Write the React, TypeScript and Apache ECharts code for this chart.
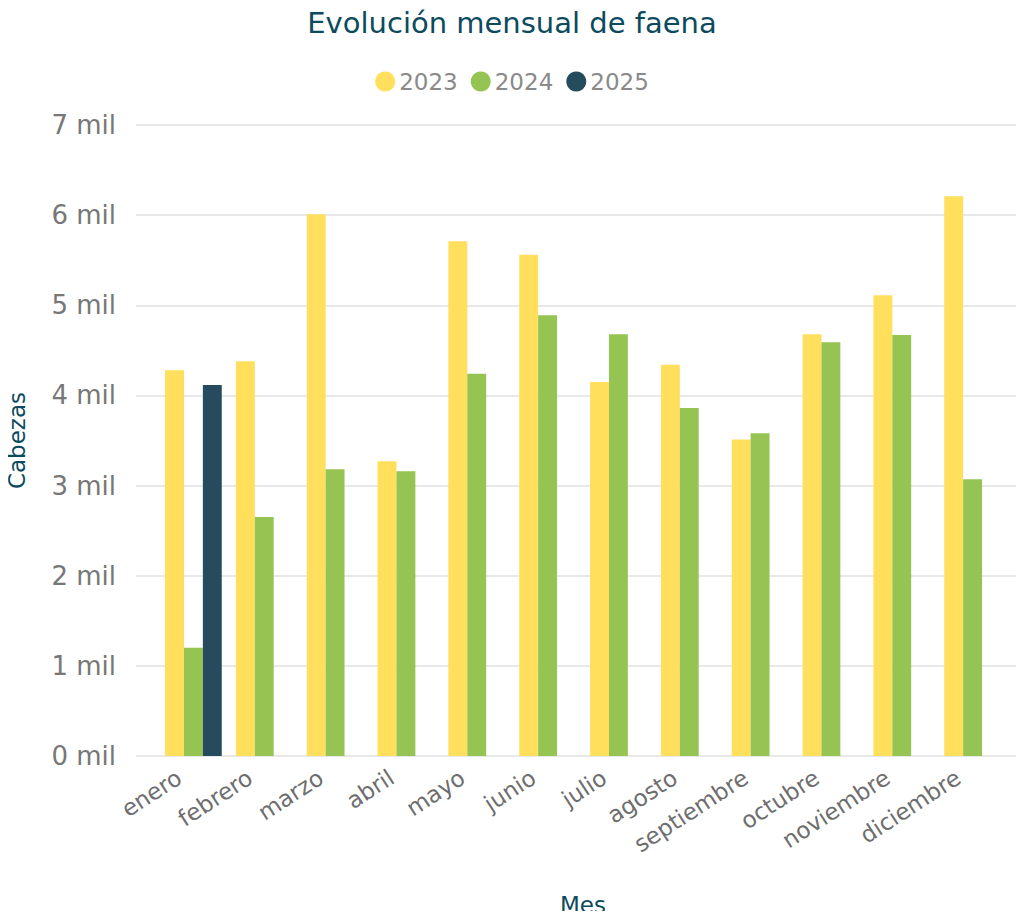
import React, { useEffect, useRef } from "react";
import * as echarts from "echarts";

const months = ["enero", "febrero", "marzo", "abril", "mayo", "junio", "julio", "agosto", "septiembre", "octubre", "noviembre", "diciembre"];
const s2023 = [4280, 4380, 6010, 3270, 5710, 5560, 4150, 4340, 3510, 4680, 5110, 6210];
const s2024 = [1200, 2650, 3180, 3160, 4240, 4890, 4680, 3860, 3580, 4590, 4670, 3070];
const s2025: (number | null)[] = [4115, null, null, null, null, null, null, null, null, null, null, null];
const yTicks = [0, 1000, 2000, 3000, 4000, 5000, 6000, 7000];

const FONT = "DejaVu Sans";

export default function App() {
  const ref = useRef<HTMLDivElement>(null);
  useEffect(() => {
    if (!ref.current) return;
    const chart = echarts.init(ref.current, undefined, { renderer: "svg" });
    const yMax = yTicks[yTicks.length - 1];
    chart.setOption({
      animation: false,
      textStyle: { fontFamily: FONT },
      title: {
        text: "Evolución mensual de faena",
        left: "center",
        top: 3,
        textStyle: { fontFamily: FONT, fontSize: 29, fontWeight: "normal", color: "#0c4b5e" },
      },
      legend: {
        top: 65,
        left: "center",
        icon: "circle",
        itemWidth: 20,
        itemHeight: 20,
        itemGap: 13,
        textStyle: { fontFamily: FONT, fontSize: 23, color: "#8a8a8a", padding: [0, 0, 0, -1] },
        data: ["2023", "2024", "2025"],
      },
      grid: [
        { left: 136, right: 2, top: 125, bottom: 163, outerBoundsMode: "none", containLabel: false },
        { left: 158, right: 16, top: 125, bottom: 163, outerBoundsMode: "none", containLabel: false },
      ],
      xAxis: [
        { gridIndex: 0, type: "value", show: false, min: 0, max: 1 },
        {
          gridIndex: 1,
          type: "category",
          data: months,
          axisLine: { show: false },
          axisTick: { show: false },
          axisLabel: { rotate: 33, fontSize: 23, color: "#6e6e6e", margin: 10, padding: [0, 17, 0, 0], fontFamily: FONT },
          name: "Mes",
          nameLocation: "middle",
          nameGap: 137,
          nameTextStyle: { fontFamily: FONT, fontSize: 23, color: "#0c4b5e" },
        },
      ],
      yAxis: [
        {
          gridIndex: 0,
          type: "value",
          min: 0,
          max: yMax,
          interval: 1000,
          axisLine: { show: false },
          axisTick: { show: false },
          splitLine: { lineStyle: { color: "#e8e8e8", width: 2 } },
          axisLabel: {
            fontSize: 26,
            color: "#777777",
            margin: 20,
            fontFamily: FONT,
            formatter: (v: number) => `${v / 1000} mil`,
          },
          name: "Cabezas",
          nameLocation: "middle",
          nameGap: 108,
          nameTextStyle: { fontFamily: FONT, fontSize: 23, color: "#0c4b5e" },
        },
        { gridIndex: 1, type: "value", min: 0, max: yMax, show: false, splitLine: { show: false } },
      ],
      series: [
        { name: "2023", type: "bar", xAxisIndex: 1, yAxisIndex: 1, data: s2023, itemStyle: { color: "#FFDF5C" }, barGap: "0%", barCategoryGap: "20%" },
        { name: "2024", type: "bar", xAxisIndex: 1, yAxisIndex: 1, data: s2024, itemStyle: { color: "#95C452" }, barGap: "0%", barCategoryGap: "20%" },
        { name: "2025", type: "bar", xAxisIndex: 1, yAxisIndex: 1, data: s2025, itemStyle: { color: "#264B5D" }, barGap: "0%", barCategoryGap: "20%" },
      ],
    });
    return () => chart.dispose();
  }, []);
  return <div ref={ref} style={{ width: 1024, height: 919, margin: -8 }} />;
}
